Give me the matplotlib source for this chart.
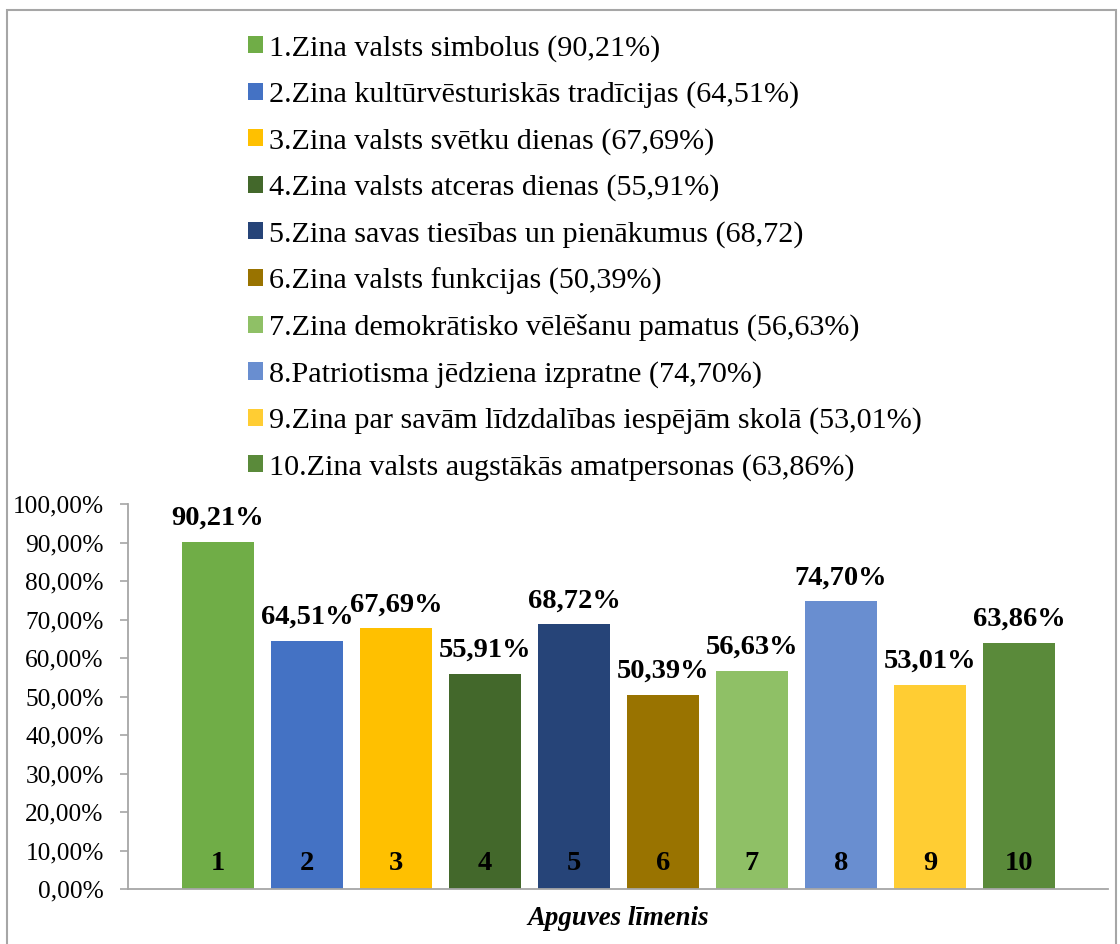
import matplotlib.pyplot as plt
from matplotlib.patches import Rectangle
from matplotlib.ticker import FuncFormatter

# data
labels = [
    "1.Zina valsts simbolus (90,21%)",
    "2.Zina kultūrvēsturiskās tradīcijas (64,51%)",
    "3.Zina valsts svētku dienas (67,69%)",
    "4.Zina valsts atceras dienas (55,91%)",
    "5.Zina savas tiesības un pienākumus (68,72)",
    "6.Zina valsts funkcijas (50,39%)",
    "7.Zina demokrātisko vēlēšanu pamatus (56,63%)",
    "8.Patriotisma jēdziena izpratne (74,70%)",
    "9.Zina par savām līdzdalības iespējām skolā (53,01%)",
    "10.Zina valsts augstākās amatpersonas (63,86%)",
]
numbers = ["1", "2", "3", "4", "5", "6", "7", "8", "9", "10"]
values = [90.21, 64.51, 67.69, 55.91, 68.72, 50.39, 56.63, 74.70, 53.01, 63.86]
colors = ["#70AD47", "#4472C4", "#FFC000", "#43682B", "#264478",
          "#997300", "#8FC066", "#698ED0", "#FFCD33", "#5A8A3A"]

plt.rcParams['font.family'] = ['Liberation Serif', 'DejaVu Serif']

fig = plt.figure(figsize=(11.2, 9.44), dpi=100)
ax = fig.add_axes([128 / 1120, 55 / 944, 980 / 1120, 385 / 944])

x = list(range(len(values)))
bars = ax.bar(x, values, width=0.81, color=colors)

# value labels above bars, category numbers inside bars
for xi, v, n in zip(x, values, numbers):
    ax.annotate(f"{v:.2f}%".replace(".", ","), (xi, v), xytext=(0, 8),
                textcoords="offset points", ha="center", va="bottom",
                fontsize=20.5, fontweight="bold")
    ax.text(xi, 6.6, n, ha="center", va="center", fontsize=20.5, fontweight="bold")

ax.set_xlim(-1.011, 10.0)
ax.set_ylim(0, 100)
ax.set_yticks(range(0, 101, 10))
ax.yaxis.set_major_formatter(FuncFormatter(lambda v, p: f"{v:.2f}%".replace(".", ",")))
ax.tick_params(axis="y", labelsize=18.3, length=6, width=1.2, color="#A6A6A6", pad=11.5)
ax.set_xticks([])
for s in ["top", "right"]:
    ax.spines[s].set_visible(False)
for s in ["left", "bottom"]:
    ax.spines[s].set_color("#A6A6A6")
    ax.spines[s].set_linewidth(1.3)

ax.set_xlabel("Apguves līmenis", fontsize=19.4, fontweight="bold", style="italic", labelpad=12)

fig.legend(bars, labels, loc="upper left", bbox_to_anchor=(248 / 1120, 1 - 35 / 944),
           frameon=False, fontsize=21.7, handlelength=0.5, handleheight=0.5,
           handletextpad=0.2, labelspacing=0.648, borderaxespad=0, borderpad=0)

# outer border of the chart area
fig.patches.append(Rectangle((7 / 1120, -0.01), 1109 / 1120, 1 - 10 / 944 + 0.01,
                             transform=fig.transFigure, fill=False,
                             edgecolor="#A6A6A6", linewidth=1.5))

fig.savefig("out.png", dpi=100)
